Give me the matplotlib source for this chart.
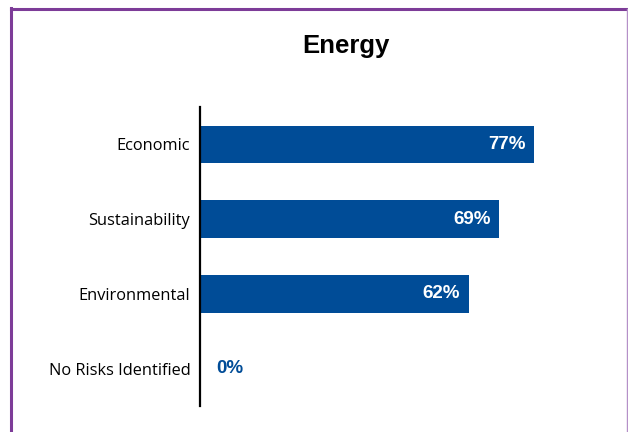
import matplotlib.pyplot as plt
from matplotlib.lines import Line2D

categories = ['Economic', 'Sustainability', 'Environmental', 'No Risks Identified']
values = [77, 69, 62, 0]
bar_color = '#004C97'
border_color = '#7D3C98'

fig = plt.figure(figsize=(6.28, 4.32), dpi=100)
ax = fig.add_axes([200 / 628, 1 - 406 / 432, 390 / 628, 299 / 432])

y = list(range(len(categories)))
ax.barh(y, values, height=0.5, color=bar_color)
ax.set_xlim(0, 90)
ax.set_ylim(3.5, -0.5)
ax.set_yticks(y)
ax.set_yticklabels(categories, family='Open Sans', fontsize=11.8)
ax.tick_params(axis='y', length=0, pad=7)
ax.set_xticks([])
for s in ['top', 'right', 'bottom']:
    ax.spines[s].set_visible(False)
ax.spines['left'].set_linewidth(1.6)
ax.spines['left'].set_color('black')

# value labels
for yi, v in zip(y, values):
    if v > 0:
        ax.annotate(f'{v}%', (v, yi), xytext=(-6, 0), textcoords='offset points',
                    ha='right', va='center', color='white', fontweight='bold',
                    family='Liberation Sans', fontsize=13.5)
    else:
        ax.annotate(f'{v}%', (0, yi), xytext=(12, 0), textcoords='offset points',
                    ha='left', va='center', color=bar_color, fontweight='bold',
                    family='Liberation Sans', fontsize=13.5)

fig.text(0.551, 0.893, 'Energy', ha='center', va='center', fontsize=18.5,
         fontweight='bold', family='Liberation Sans')

# purple frame
fig.add_artist(Line2D([10.5 / 628, 10.5 / 628], [0, 1 - 8 / 432], color=border_color, lw=2.2))
fig.add_artist(Line2D([10.5 / 628, 1], [1 - 9 / 432, 1 - 9 / 432], color=border_color, lw=2.2))
fig.add_artist(Line2D([626.5 / 628, 626.5 / 628], [0, 1 - 9 / 432], color='#B590C8', lw=1))

fig.savefig('out.png', dpi=100)
